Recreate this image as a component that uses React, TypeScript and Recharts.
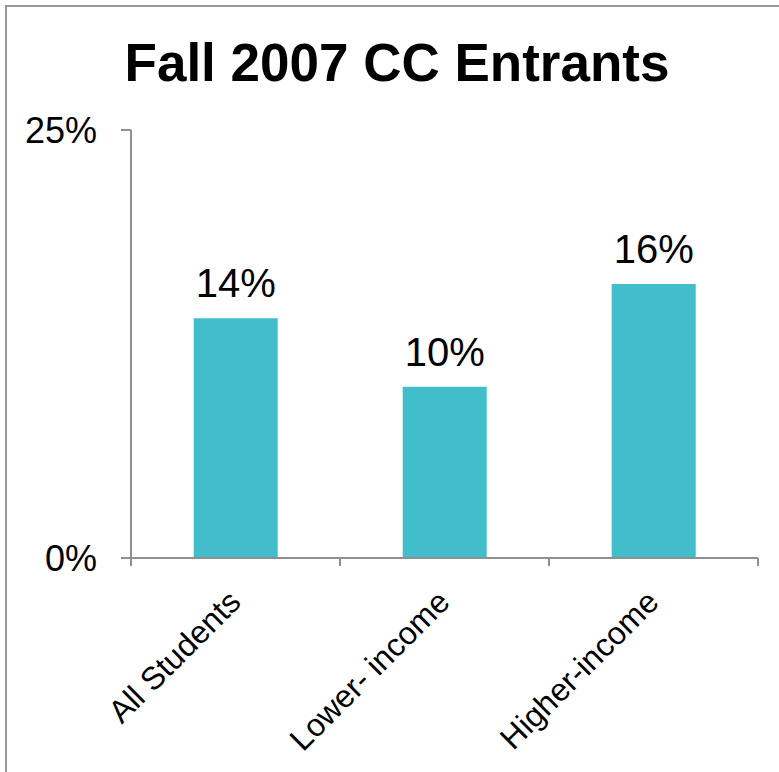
import { BarChart, Bar, XAxis, YAxis, LabelList } from "recharts";

const categories = ["All Students", "Lower- income", "Higher-income"];
const shares = [14, 10, 16];
const yTicks = [0, 25];

const data = categories.map((name, i) => ({ name, value: shares[i] }));

const AXIS = "#8f8f8f";
const FONT = '"Liberation Sans", Arial, sans-serif';

const CategoryTick = (props: any) => {
  const { x, y, payload, index } = props;
  const half = payload && payload.offset ? payload.offset : (758 - 131) / categories.length / 2;
  const last = index === categories.length - 1;
  const tx = x + 7;
  const ty = y + 46;
  return (
    <g>
      <line x1={x - half} y1={y} x2={x - half} y2={y + 8} stroke={AXIS} strokeWidth={2} />
      {last && (
        <line x1={x + half} y1={y} x2={x + half} y2={y + 8} stroke={AXIS} strokeWidth={2} />
      )}
      <text
        x={tx}
        y={ty}
        textAnchor="end"
        fontSize={32}
        fontFamily={FONT}
        fill="#000"
        transform={`rotate(-45, ${tx}, ${ty})`}
      >
        {payload.value}
      </text>
    </g>
  );
};

export default function App() {
  return (
    <div
      style={{
        position: "absolute",
        left: 0,
        top: 0,
        width: 779,
        height: 772,
        overflow: "hidden",
        background: "#fff",
        fontFamily: FONT,
      }}
    >
      <div
        style={{
          position: "absolute",
          left: 5,
          top: 5,
          width: 900,
          height: 900,
          borderTop: "2px solid #999",
          borderLeft: "2px solid #999",
        }}
      />
      <div
        style={{
          position: "absolute",
          left: 397,
          top: 36,
          transform: "translateX(-50%)",
          whiteSpace: "nowrap",
          fontSize: 53,
          lineHeight: "53px",
          fontWeight: "bold",
          color: "#000",
        }}
      >
        Fall 2007 CC Entrants
      </div>
      <div style={{ position: "absolute", left: 0, top: 0 }}>
        <BarChart
          width={779}
          height={772}
          data={data}
          margin={{ top: 130, right: 21, bottom: 14, left: 0 }}
          barCategoryGap="30%"
        >
          <XAxis
            dataKey="name"
            height={200}
            interval={0}
            axisLine={{ stroke: AXIS, strokeWidth: 2 }}
            tickLine={false}
            tickSize={0}
            tickMargin={0}
            tick={<CategoryTick />}
          />
          <YAxis
            width={131}
            domain={[0, 25]}
            ticks={yTicks}
            interval={0}
            tickFormatter={(v: number) => `${v}%`}
            axisLine={{ stroke: AXIS, strokeWidth: 2 }}
            tickLine={{ stroke: AXIS, strokeWidth: 2 }}
            tickSize={10}
            tickMargin={24}
            tick={{ fontSize: 36, fill: "#000", fontFamily: FONT }}
          />
          <Bar dataKey="value" fill="#42BDCA" isAnimationActive={false}>
            <LabelList
              dataKey="value"
              position="top"
              offset={21}
              formatter={(v: any) => `${v}%`}
              style={{ fontSize: 40, fill: "#000", fontFamily: FONT }}
            />
          </Bar>
        </BarChart>
      </div>
    </div>
  );
}
